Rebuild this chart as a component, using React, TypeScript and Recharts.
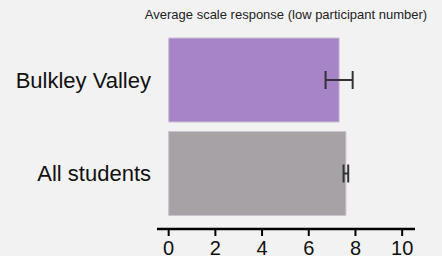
import React from "react"
import { BarChart, Bar, XAxis, YAxis, ErrorBar, Cell } from "recharts"

const categories = ["Bulkley Valley", "All students"]
const means = [7.3, 7.59]
const errors = [0.58, 0.1]
const colors = ["#a784c8", "#a6a2a6"]
const xTicks = [0, 2, 4, 6, 8, 10]

const data = categories.map((name, i) => ({ name, value: means[i], err: errors[i] }))

const App: React.FC = () => (
	<div style={{ position: "relative", width: 442, height: 256, background: "#f2f2f2", fontFamily: "Arial, 'Liberation Sans', sans-serif" }}>
		<style>{"body{margin:0}"}</style>
		<div
			style={{
				position: "absolute",
				left: 136,
				top: 7,
				width: 300,
				textAlign: "center",
				fontSize: 13,
				color: "#222",
			}}
		>
			Average scale response (low participant number)
		</div>
		<BarChart
			width={442}
			height={256}
			data={data}
			layout="vertical"
			margin={{ top: 33, right: 27, bottom: 0, left: 0 }}
		>
			<XAxis
				type="number"
				domain={[-0.5, 10.55]}
				ticks={xTicks}
				allowDataOverflow
				axisLine={{ stroke: "#000", strokeWidth: 2.5 }}
				tickLine={{ stroke: "#000", strokeWidth: 2 }}
				tickSize={7}
				tickMargin={5}
				height={27}
				tick={{ fill: "#111", fontSize: 20 }}
			/>
			<YAxis
				type="category"
				dataKey="name"
				width={157}
				axisLine={false}
				tickLine={false}
				tickSize={0}
				tickMargin={6}
				padding={{ top: 0, bottom: 9 }}
				tick={{ fill: "#111", fontSize: 22 }}
			/>
			<Bar dataKey="value" barSize={84} isAnimationActive={false} stroke="#c9c2cf" strokeWidth={1}>
				{data.map((d, i) => (
					<Cell key={d.name} fill={colors[i]} />
				))}
				<ErrorBar dataKey="err" direction="x" width={9} stroke="#333" strokeWidth={2} />
			</Bar>
		</BarChart>
	</div>
)

export default App
